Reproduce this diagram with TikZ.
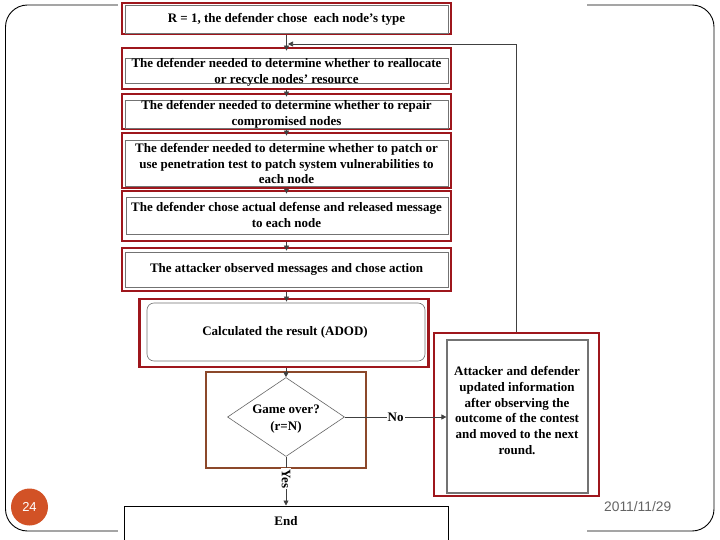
\documentclass[tikz,border=0pt]{standalone}
\usepackage{fontspec}
\setmainfont{Liberation Serif}
\newfontfamily\slidesans{Liberation Sans}
\usetikzlibrary{shapes.geometric,arrows.meta,calc}
\definecolor{frameRed}{RGB}{158,22,28}
\definecolor{frameBrown}{RGB}{140,72,42}
\definecolor{numOrange}{RGB}{210,82,38}
\definecolor{dateGray}{RGB}{100,100,100}
\newcommand\steptext{\bfseries\fontsize{13}{15.7}\selectfont}
\begin{document}
\begin{tikzpicture}[x=1pt,y=-1pt,
  stepbox/.style={draw=frameRed, line width=2.8pt, fill=white, minimum width=329pt, inner sep=0pt},
  steptxt/.style={font=\steptext, align=center, inner sep=0pt},
  brownbox/.style={draw=frameBrown, line width=2.8pt, inner sep=0pt},
  innerline/.style={draw=black!55, line width=0.6pt},
  arr/.style={draw=black!75, line width=0.7pt, -{Triangle[length=5pt,width=5pt]}},
  lbl/.style={font=\steptext, inner sep=1pt}
]
\useasboundingbox (0,0) rectangle (720,540);
% slide frame
\draw[line width=0.9pt, rounded corners=22pt] (5.5,5) rectangle (714,531);
\fill[white] (118,0) rectangle (587,540);
% page number and date
\node[circle, fill=numOrange, minimum size=37pt, inner sep=0pt, text=white, font=\slidesans\fontsize{13}{15}\selectfont] (pg) at (29.5,507) {24};
\node[text=dateGray, font=\slidesans\fontsize{13.8}{16}\selectfont, anchor=west, inner sep=0pt] (date) at (604,507) {2011/11/29};

% step boxes (frames)
\node[stepbox, minimum height=31pt] (b1) at (286.5,18.5) {};
\node[stepbox, minimum height=41pt] (b2) at (286.5,68.5) {};
\node[stepbox, minimum height=35pt] (b3) at (286.5,111.5) {};
\node[stepbox, minimum height=55pt] (b4) at (286.5,160.5) {};
\node[stepbox, minimum height=50pt] (b5) at (286.5,216) {};
\node[stepbox, minimum height=43pt] (b6) at (286.5,269.5) {};
\node[stepbox, minimum width=289pt, minimum height=68pt] (b7) at (284,333) {};

% inner (original flowchart) box edges
\draw[innerline] (125,5) rectangle (448,33);
\draw[innerline] (125,58) rectangle (448,83);
\draw[innerline] (125,100) rectangle (448,128);
\draw[innerline] (125,140) rectangle (448,186);
\draw[innerline] (126,197) rectangle (448,234);
\draw[innerline] (125,252) rectangle (448,287);
\draw[innerline, rounded corners=7pt] (147,303) rectangle (425,361);

% step texts
\node[steptxt] (t1) at ($(b1.center)+(0,0.5)$) {R = 1, the defender chose~ each node's type};
\node[steptxt] (t2) at ($(b2.center)+(0,3.5)$) {The defender needed to determine whether to reallocate\\or recycle nodes' resource};
\node[steptxt] (t3) at ($(b3.center)+(0,2.5)$) {The defender needed to determine whether to repair\\compromised nodes};
\node[steptxt] (t4) at ($(b4.center)+(0,3)$) {The defender needed to determine whether to patch or\\use penetration test to patch system vulnerabilities to\\each node};
\node[steptxt] (t5) at ($(b5.center)+(0,-1)$) {The defender chose actual defense and released message\\to each node};
\node[steptxt] (t6) at (b6.center) {The attacker observed messages and chose action};
\node[steptxt] (t7) at ($(b7.center)+(1,-1)$) {Calculated the result (ADOD)};

% decision
\node[brownbox, minimum width=160pt, minimum height=96pt] (b8) at (286,420) {};
\node[diamond, draw=black!60, line width=0.6pt, minimum width=117pt, minimum height=79pt, inner sep=0pt] (d) at (286,417) {};
\node[steptxt, font=\bfseries\fontsize{13}{16.5}\selectfont] (dt) at (286,419) {Game over?\\(r=N)};

% right box
\node[draw=frameRed, line width=2.8pt, minimum width=165pt, minimum height=163pt, inner sep=0pt] (rb) at (516.5,414.5) {};
\node[draw=black!55, line width=1.2pt, fill=white, minimum width=141pt, minimum height=153pt, inner sep=0pt] (rbi) at (517.5,416.5) {};
\node[steptxt] (rbt) at (517,410.5) {Attacker and defender\\updated information\\after observing the\\outcome of the contest\\and moved to the next\\round.};

% end
\node[draw=black, line width=1pt, minimum width=324pt, minimum height=40pt, inner sep=0pt, font=\steptext, text depth=10pt] (endb) at (286,526) {End};

% connectors
\coordinate (fb) at (288,44);
\draw[arr] (b1.south) -- ($(b2.north)+(0,4)$);
\draw[arr] (b2.south) -- ($(b3.north)+(0,4)$);
\draw[arr] (b3.south) -- ($(b4.north)+(0,4)$);
\draw[arr] (b4.south) -- ($(b5.north)+(0,4)$);
\draw[arr] (b5.south) -- ($(b6.north)+(0,4)$);
\draw[arr] (b6.south) -- ($(b6.south |- b7.north)+(0,4)$);
\draw[arr] (b7.south -| d.north) -- (d.north);
\draw[arr] (d.south) -- (endb.north) node[lbl, pos=0.45, rotate=-90, fill=white] (yes) {Yes};
\draw[arr] (d.east) -- (d.east -| rbi.west) node[lbl, midway, fill=white] (no) {No};
\draw[arr] (rb.north) -- (rb.north |- fb) -- (fb);
\end{tikzpicture}
\end{document}
